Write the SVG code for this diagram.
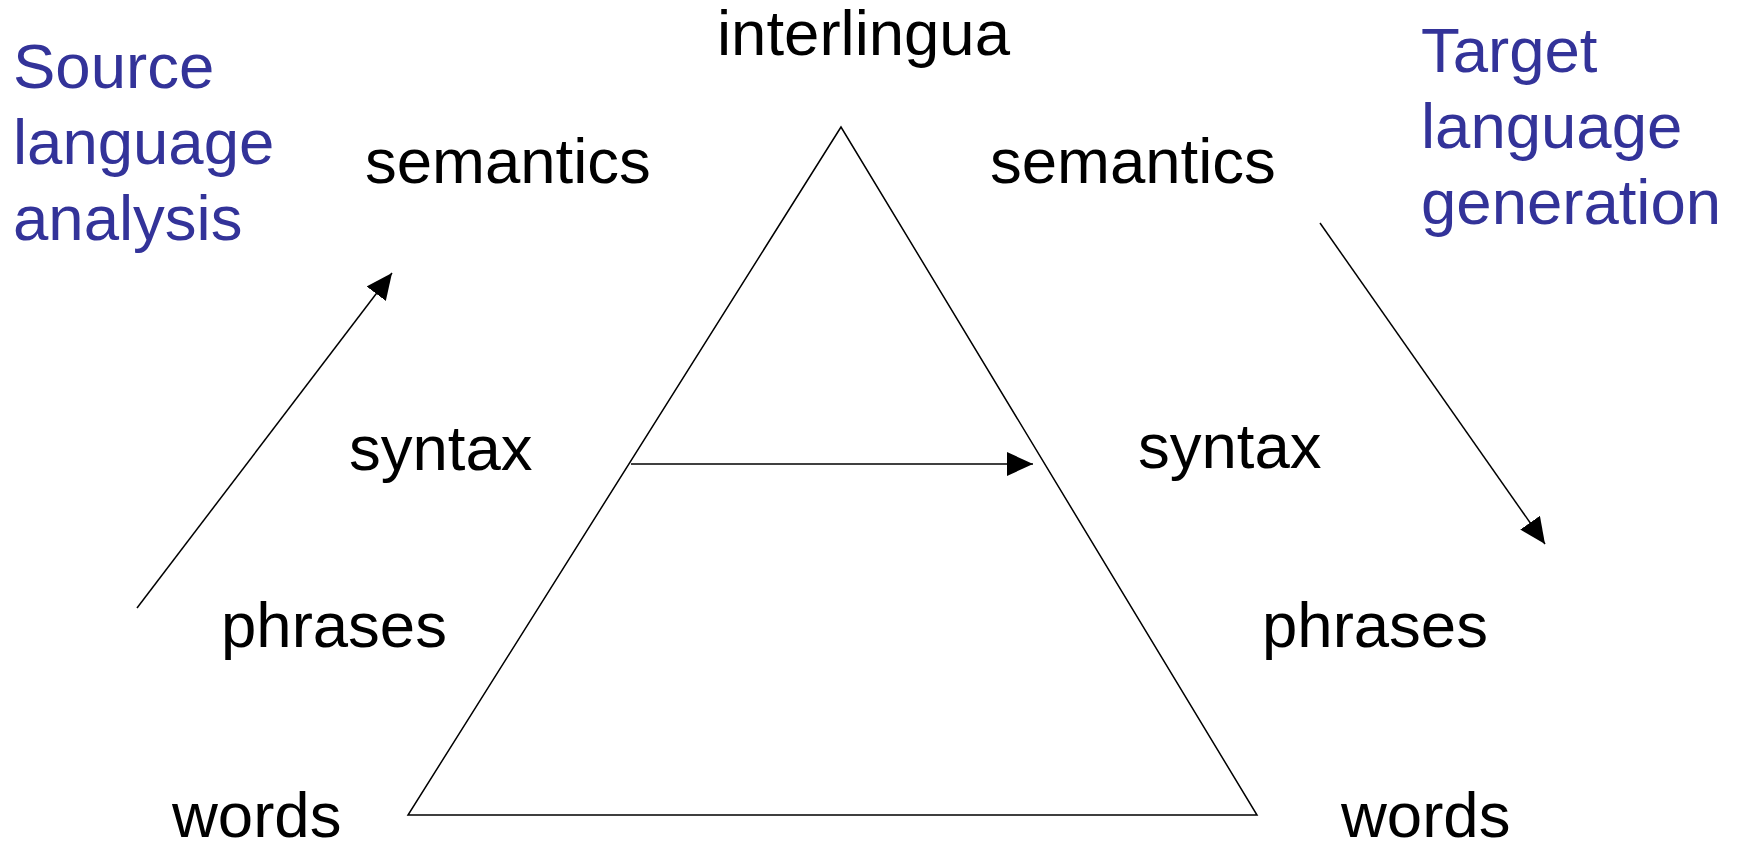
<svg xmlns="http://www.w3.org/2000/svg" width="1742" height="845" viewBox="0 0 1742 845">
<style>
text{font-family:"Liberation Sans",Arial,sans-serif;font-size:63.5px;fill:#000}
.blue{fill:#333399}
.ln{stroke:#000;stroke-width:1.5;fill:none}
</style>
<defs>
<marker id="ah" markerUnits="userSpaceOnUse" markerWidth="28" markerHeight="26" refX="26" refY="12" orient="auto">
<path d="M0,0 L26,12 L0,24 Z" fill="#000"/>
</marker>
</defs>
<rect width="1742" height="845" fill="#fff"/>
<g id="triangle">
<polygon class="ln" points="841,127 408,815 1257,815"/>
</g>
<g id="source-label"><text class="blue" x="13" y="88">Source</text><text class="blue" x="13" y="164">language</text><text class="blue" x="13" y="240">analysis</text></g>
<g id="target-label"><text class="blue" x="1421" y="72">Target</text><text class="blue" x="1421" y="148">language</text><text class="blue" x="1421" y="224">generation</text></g>
<g id="interlingua"><text x="717" y="55">interlingua</text></g>
<g id="sem-left"><text x="365" y="183">semantics</text></g>
<g id="sem-right"><text x="990" y="183">semantics</text></g>
<g id="syn-left"><text x="349" y="470">syntax</text></g>
<g id="syn-right"><text x="1138" y="468">syntax</text></g>
<g id="phr-left"><text x="221" y="647">phrases</text></g>
<g id="phr-right"><text x="1262" y="647">phrases</text></g>
<g id="words-left"><text x="172" y="837">words</text></g>
<g id="words-right"><text x="1341" y="837">words</text></g>
<g id="connectors">
<line class="ln" x1="137" y1="608" x2="392" y2="273" marker-end="url(#ah)"/>
<line class="ln" x1="631" y1="464" x2="1033" y2="464" marker-end="url(#ah)"/>
<line class="ln" x1="1320" y1="223" x2="1545" y2="544" marker-end="url(#ah)"/>
</g>
</svg>
